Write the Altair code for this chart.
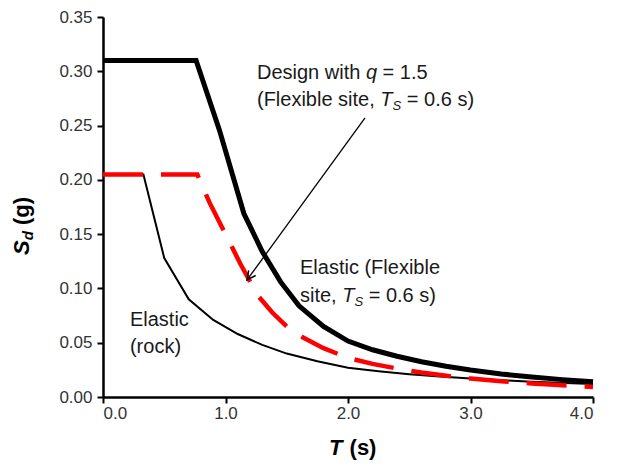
import altair as alt
import pandas as pd

# ---------------- data ----------------
T_rock = [0.0, 0.33, 0.5, 0.7, 0.9, 1.1, 1.3, 1.5, 1.75, 2.0, 2.25, 2.5, 2.75, 3.0, 3.5, 4.0]
Sd_rock = [0.205, 0.205, 0.128, 0.090, 0.071, 0.058, 0.048, 0.040, 0.033, 0.027, 0.0238,
           0.021, 0.0188, 0.017, 0.014, 0.012]

T_flex = [0.0, 0.76, 0.95, 1.15, 1.3, 1.45, 1.6, 1.8, 2.0, 2.2, 2.4, 2.6, 2.8, 3.0,
          3.25, 3.5, 3.75, 4.0]
Sd_flex = [0.31, 0.31, 0.246, 0.169, 0.134, 0.106, 0.084, 0.065, 0.0515, 0.0435, 0.0375,
           0.0325, 0.0283, 0.0248, 0.0212, 0.0184, 0.016, 0.014]

T_design = [0.0, 0.77, 0.87, 1.0, 1.12, 1.26, 1.38, 1.5, 1.63, 1.8, 2.0, 2.2, 2.4, 2.6,
            2.8, 3.0, 3.25, 3.5, 3.75, 4.0]
Sd_design = [0.205, 0.205, 0.179, 0.150, 0.123, 0.094, 0.078, 0.065, 0.055, 0.045, 0.036,
             0.0305, 0.0262, 0.0225, 0.0195, 0.017, 0.0145, 0.0125, 0.0108, 0.0093]

x_ticks = [0.0, 1.0, 2.0, 3.0, 4.0]
y_ticks = [0.0, 0.05, 0.10, 0.15, 0.20, 0.25, 0.30, 0.35]

# annotation texts: (anchor T, anchor Sd, [(segment, style)])
annotations = [
    (1.257, 0.2984, [("Design with ", "n"), ("q", "i"), (" = 1.5", "n")]),
    (1.257, 0.2735, [("(Flexible site, ", "n"), ("T", "i"), ("S", "sub"), (" = 0.6 s)", "n")]),
    (1.608, 0.1188, [("Elastic (Flexible", "n")]),
    (1.608, 0.0930, [("site, ", "n"), ("T", "i"), ("S", "sub"), (" = 0.6 s)", "n")]),
    (0.220, 0.0709, [("Elastic", "n")]),
    (0.220, 0.0461, [("(rock)", "n")]),
]
arrow_T = [2.139, 1.176]
arrow_Sd = [0.257, 0.1078]

# ---------------- layout helpers ----------------
W, H = 490, 380
PX_PER_T = W / 4.0
FONT = "Liberation Sans"
ANN_SIZE = 20
SUB_SIZE = 13

ARIAL = {' ': .278, '(': .333, ')': .333, ',': .278, '.': .278, '=': .584,
         'D': .722, 'E': .667, 'F': .611, 'S': .667, 'T': .611,
         'a': .556, 'b': .556, 'c': .5, 'd': .556, 'e': .556, 'g': .556, 'h': .556,
         'i': .222, 'k': .5, 'l': .222, 'n': .556, 'o': .556, 'q': .556, 'r': .333,
         's': .5, 't': .278, 'w': .722, 'x': .5}
ARIAL_BOLD = {'S': .667, 'T': .611, 'd': .611, ' ': .278, '(': .333,
              ')': .333, 'g': .611, 's': .556}


def text_width(s, size, table=ARIAL):
    return sum(table.get(c, .556) for c in s) * size


rows = []
for t0, sd0, segs in annotations:
    off = 0.0
    for txt, style in segs:
        size = SUB_SIZE if style == "sub" else ANN_SIZE
        stripped = txt.lstrip(" ")
        lead = text_width(txt[:len(txt) - len(stripped)], size)
        rows.append({"T": t0 + (off + lead) / PX_PER_T, "Sd": sd0,
                     "label": stripped.rstrip(" "), "style": style})
        off += text_width(txt, size)
ann_df = pd.DataFrame(rows)

xs = alt.Scale(domain=[0, 4], nice=False, zero=False)
ys = alt.Scale(domain=[0, 0.35], nice=False, zero=False)
X = alt.X("T:Q", scale=xs,
          axis=alt.Axis(values=x_ticks, format=".1f", title=None, grid=False))
Y = alt.Y("Sd:Q", scale=ys,
          axis=alt.Axis(values=y_ticks, format=".2f", title=None, grid=False))

rock = alt.Chart(pd.DataFrame({"T": T_rock, "Sd": Sd_rock})).mark_line(
    color="black", strokeWidth=2).encode(x=X, y=Y, order="T:Q")
flex = alt.Chart(pd.DataFrame({"T": T_flex, "Sd": Sd_flex})).mark_line(
    color="black", strokeWidth=5).encode(x=X, y=Y, order="T:Q")
design = alt.Chart(pd.DataFrame({"T": T_design, "Sd": Sd_design})).mark_line(
    color="#ff0000", strokeWidth=4.5, strokeDash=[40, 18], strokeCap="butt").encode(
    x=X, y=Y, order="T:Q")

arrow_df = pd.DataFrame({"T": [arrow_T[0]], "Sd": [arrow_Sd[0]],
                         "T2": [arrow_T[1]], "Sd2": [arrow_Sd[1]]})
arrow_line = alt.Chart(arrow_df).mark_rule(color="black", strokeWidth=1.3).encode(
    x=X, y=Y, x2="T2:Q", y2="Sd2:Q")
arrow_head = alt.Chart(pd.DataFrame({"T": [arrow_T[1]], "Sd": [arrow_Sd[1]]})).mark_point(
    shape="M -0.5 -1 L 0 0 L 0.5 -1", size=300, filled=False, color="black",
    strokeWidth=1.5, angle=36, opacity=1).encode(x=X, y=Y)

txt_n = alt.Chart(ann_df[ann_df["style"] == "n"]).mark_text(
    align="left", baseline="middle", font=FONT, fontSize=ANN_SIZE, color="#1a1a1a").encode(
    x=X, y=Y, text="label:N")
txt_i = alt.Chart(ann_df[ann_df["style"] == "i"]).mark_text(
    align="left", baseline="middle", font=FONT, fontSize=ANN_SIZE, fontStyle="italic",
    color="#1a1a1a").encode(x=X, y=Y, text="label:N")
txt_sub = alt.Chart(ann_df[ann_df["style"] == "sub"]).mark_text(
    align="left", baseline="middle", font=FONT, fontSize=SUB_SIZE, fontStyle="italic",
    dy=6, color="#1a1a1a").encode(x=X, y=Y, text="label:N")

# axis titles built from pieces (italic symbol + subscript)
TS = 22
ytitle_x = -81
y0 = 238
w_S = text_width("S", TS, ARIAL_BOLD)
w_d = text_width("d", 15, ARIAL_BOLD)
w_sp = text_width(" ", TS, ARIAL_BOLD)
ys_S = alt.Chart(pd.DataFrame({"t": ["S"]})).mark_text(
    align="left", baseline="middle", angle=270, font=FONT, fontSize=TS, fontWeight="bold",
    fontStyle="italic", color="black").encode(
    x=alt.value(ytitle_x), y=alt.value(y0), text="t:N")
ys_d = alt.Chart(pd.DataFrame({"t": ["d"]})).mark_text(
    align="left", baseline="middle", angle=270, font=FONT, fontSize=15, fontWeight="bold",
    fontStyle="italic", dy=6, color="black").encode(
    x=alt.value(ytitle_x), y=alt.value(y0 - w_S), text="t:N")
ys_g = alt.Chart(pd.DataFrame({"t": ["(g)"]})).mark_text(
    align="left", baseline="middle", angle=270, font=FONT, fontSize=TS, fontWeight="bold",
    color="black").encode(
    x=alt.value(ytitle_x), y=alt.value(y0 - w_S - w_d - w_sp), text="t:N")

xt_x0 = 226
xt_y = 431
xt_T = alt.Chart(pd.DataFrame({"t": ["T"]})).mark_text(
    align="left", baseline="middle", font=FONT, fontSize=TS, fontWeight="bold",
    fontStyle="italic", color="black").encode(
    x=alt.value(xt_x0), y=alt.value(xt_y), text="t:N")
xt_s = alt.Chart(pd.DataFrame({"t": ["(s)"]})).mark_text(
    align="left", baseline="middle", font=FONT, fontSize=TS, fontWeight="bold",
    color="black").encode(
    x=alt.value(xt_x0 + text_width("T", TS, ARIAL_BOLD) + w_sp + 1), y=alt.value(xt_y),
    text="t:N")

chart = alt.layer(
    rock, flex, design, arrow_line, arrow_head, txt_n, txt_i, txt_sub,
    ys_S, ys_d, ys_g, xt_T, xt_s
).properties(
    width=W, height=H,
    autosize=alt.AutoSizeParams(type="none"),
    padding={"left": 103, "top": 17, "right": 30, "bottom": 68},
    background="white",
).configure_view(stroke=None).configure_axis(
    domainColor="black", domainWidth=2.5, tickColor="black", tickWidth=2, tickSize=6,
    labelFont=FONT, labelFontSize=17, labelColor="#333333", labelPadding=3,
).configure_axisX(labelPadding=2).configure_axisY(labelPadding=5)

chart.save("out.html", embed_options={"renderer": "svg", "actions": False})
